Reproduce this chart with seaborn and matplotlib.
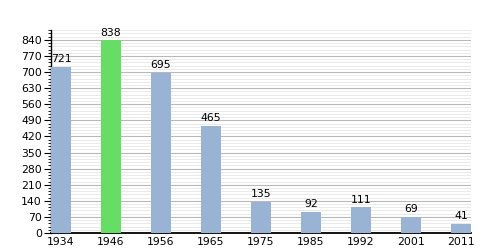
import matplotlib
matplotlib.use("Agg")
import matplotlib.pyplot as plt
import seaborn as sns
import pandas as pd
from matplotlib.ticker import MultipleLocator

years = ["1934", "1946", "1956", "1965", "1975", "1985", "1992", "2001", "2011"]
population = [721, 838, 695, 465, 135, 92, 111, 69, 41]
highlight = "1946"

blue = "#98b3d3"
green = "#66de66"
colors = [green if y == highlight else blue for y in years]

df = pd.DataFrame({"year": years, "pop": population})

sns.set_style("white")
plt.rcParams["font.family"] = ["DejaVu Sans"]
plt.rcParams["text.color"] = "black"
plt.rcParams["xtick.color"] = "black"
plt.rcParams["ytick.color"] = "black"
plt.rcParams["xtick.labelcolor"] = "black"
plt.rcParams["ytick.labelcolor"] = "black"
fig = plt.figure(figsize=(5, 2.5), dpi=100)
ax = fig.add_axes([0.102, 0.068, 0.840, 0.812])

sns.barplot(data=df, x="year", y="pop", hue="year", palette=colors, legend=False,
            width=0.4, ax=ax, saturation=1, edgecolor="none", linewidth=0, zorder=3)

ax.set_xlim(-0.2, 8.2)
ax.set_ylim(0, 883)
ax.yaxis.set_major_locator(MultipleLocator(70))
ax.yaxis.set_minor_locator(MultipleLocator(14))
ax.grid(which="major", axis="y", color="#b8b8b8", linewidth=0.8, zorder=0)
ax.grid(which="minor", axis="y", color="#e6e6e6", linewidth=0.6, zorder=0)
ax.set_axisbelow(True)

for s in ["top", "right"]:
    ax.spines[s].set_visible(False)
ax.spines["left"].set_color("black")
ax.spines["bottom"].set_color("black")
ax.spines["left"].set_linewidth(1.0)
ax.spines["bottom"].set_linewidth(1.3)

ax.tick_params(axis="y", which="major", direction="out", length=5, width=0.8,
               labelsize=7.8, pad=1.5, left=True, colors="black")
ax.tick_params(axis="y", which="minor", direction="out", length=2.5, width=0.6,
               left=True, colors="black")
ax.tick_params(axis="x", length=0, labelsize=7.8, pad=3, colors="black")

ax.set_xlabel("")
ax.set_ylabel("")

for i, v in enumerate(population):
    ax.text(i, v + 12, str(v), ha="center", va="bottom", fontsize=7.8, color="black")

fig.savefig("out.png", dpi=100)
